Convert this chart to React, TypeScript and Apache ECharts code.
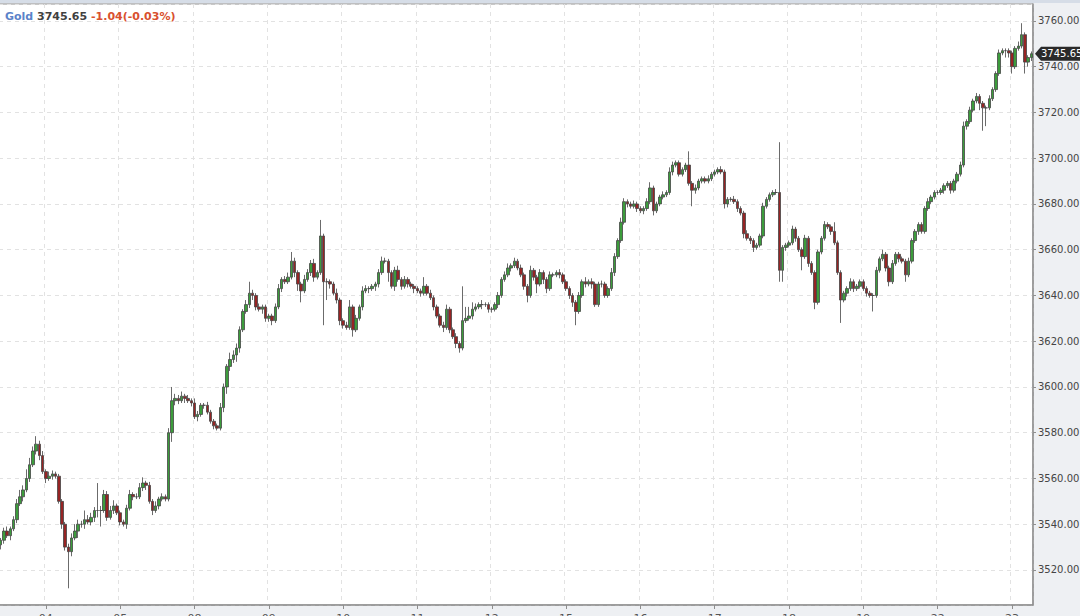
import React, { useEffect, useRef } from 'react';
import * as echarts from 'echarts';

// Trading days shown on the x axis and number of hourly bars visible for each
const dayLabels = ['03', '04', '05', '08', '09', '10', '11', '12', '15', '16', '17', '18', '19', '22', '23'];
const barsPerDay = [14, 23, 23, 23, 23, 23, 23, 23, 23, 23, 23, 23, 23, 23, 7];

const firstOpen = 3531;
const lastPrice = 3745.65;
const legendName = 'Gold';
const legendPrice = '3745.65';
const legendChange = '-1.04(-0.03%)';

// hourly closes, one row per trading day
const closes = [
  3533, 3537, 3535, 3538, 3542, 3549, 3552, 3555, 3560, 3566, 3572, 3575, 3570, 3563,
  3560, 3561, 3562, 3561, 3550, 3540, 3530, 3528, 3534, 3537, 3540, 3540, 3542, 3541, 3543, 3546, 3546, 3546, 3553, 3543, 3546, 3548, 3545,
  3541, 3540, 3547, 3553, 3552, 3552, 3556, 3558, 3557, 3550, 3546, 3548, 3551, 3552, 3551, 3580, 3594, 3595, 3594, 3596, 3595, 3594, 3593,
  3587, 3588, 3592, 3592, 3589, 3585, 3583, 3582, 3591, 3600, 3609, 3612, 3614, 3617, 3625, 3633, 3636, 3641, 3640, 3635, 3634, 3635, 3630,
  3631, 3629, 3635, 3643, 3647, 3646, 3648, 3655, 3650, 3645, 3642, 3647, 3650, 3654, 3648, 3650, 3666, 3646, 3646, 3645, 3641, 3638, 3629,
  3627, 3626, 3635, 3625, 3630, 3635, 3642, 3643, 3643, 3644, 3645, 3650, 3655, 3655, 3650, 3644, 3651, 3647, 3644, 3647, 3645, 3644, 3643,
  3642, 3641, 3644, 3641, 3639, 3635, 3631, 3627, 3626, 3634, 3625, 3622, 3619, 3617, 3629, 3630, 3631, 3634, 3635, 3636, 3636, 3636, 3634,
  3634, 3636, 3640, 3647, 3649, 3652, 3653, 3655, 3652, 3649, 3644, 3640, 3651, 3648, 3645, 3650, 3647, 3643, 3649, 3649, 3650, 3649, 3646,
  3643, 3640, 3637, 3633, 3640, 3646, 3645, 3646, 3645, 3636, 3645, 3645, 3640, 3643, 3650, 3657, 3664, 3672, 3681, 3680, 3679, 3680, 3678,
  3677, 3678, 3681, 3687, 3677, 3680, 3683, 3684, 3685, 3694, 3697, 3698, 3693, 3695, 3697, 3689, 3686, 3687, 3690, 3691, 3690, 3691, 3693,
  3694, 3695, 3694, 3680, 3682, 3682, 3681, 3678, 3676, 3667, 3665, 3664, 3661, 3662, 3666, 3679, 3682, 3684, 3685, 3685, 3651, 3661, 3662,
  3663, 3669, 3665, 3660, 3657, 3665, 3654, 3650, 3637, 3659, 3665, 3671, 3670, 3668, 3663, 3650, 3638, 3641, 3643, 3646, 3643, 3644, 3646,
  3643, 3641, 3640, 3640, 3651, 3656, 3658, 3652, 3646, 3654, 3658, 3656, 3655, 3649, 3655, 3664, 3668, 3671, 3668, 3678, 3681, 3683, 3685,
  3685, 3686, 3688, 3689, 3686, 3690, 3693, 3697, 3714, 3716, 3721, 3725, 3727, 3724, 3722, 3722, 3726, 3730, 3737, 3746, 3747, 3747, 3746,
  3740, 3748, 3749, 3754, 3742, 3744, 3745.65,
];

// upper wick length above the body
const wickUp = [
  1, 1.5, 2, 1, 1.5, 2, 3, 2, 4, 3, 2, 3.5, 1.5, 2,
  1, 2, 1.5, 1, 1, 1, 1, 1.5, 2, 3, 2, 1.5, 4, 2, 2, 1.5, 12, 2, 2, 1.5, 2, 2.5, 1,
  1, 1, 1.5, 2, 1, 1.5, 2, 2.5, 1, 1.5, 1, 2, 1, 1.5, 1, 2, 6, 2, 1.5, 2, 1, 1.5, 1,
  2, 1.5, 1, 1, 1.5, 1, 1, 1, 2, 1.5, 1, 3, 2, 2, 1.5, 1, 2, 5, 1.5, 1, 1.5, 1, 1,
  1, 1, 1.5, 2, 1, 1.5, 2, 4, 1.5, 1, 1, 2, 1.5, 1.5, 2, 1, 7, 1, 1.5, 1, 1, 2, 1,
  1, 1.5, 3, 1, 1.5, 1, 2, 1.5, 1, 1, 1, 1.5, 2, 1.5, 1, 1, 1.5, 2, 1, 1.5, 1, 1, 1,
  1, 1, 4, 1, 1.5, 1, 1, 1, 1.5, 2, 1, 1, 1.5, 1, 15, 5, 4, 3, 1.5, 1, 2, 1, 1,
  1, 1, 1.5, 1, 1.5, 2, 1, 1.5, 1, 1.5, 1, 1, 2, 1, 1, 1.5, 1, 1, 1.5, 1, 1, 1.5, 1,
  1, 1, 1, 1, 1.5, 1, 2, 1, 1.5, 1, 1, 1.5, 1, 1, 2, 1.5, 1, 2, 1.5, 1, 1, 1.5, 1,
  1, 1, 1.5, 2.5, 1, 1, 1, 1.5, 1, 2, 1.5, 1, 1, 1, 1, 6, 1, 1.5, 1, 1, 1, 1.5, 1,
  1, 1, 1.5, 1, 1, 1, 1.5, 1, 1, 1, 1.5, 1, 1, 1, 1, 1.5, 1, 1, 1, 1.5, 22, 1, 1,
  1, 1.5, 1, 1, 1, 1.5, 1, 1, 1, 1, 1, 1.5, 1, 1, 4, 1, 1, 1, 1, 1.5, 1, 1, 1,
  1, 1, 1, 1, 1.5, 1, 2, 1, 1, 1.5, 1, 1, 1, 1, 1.5, 1, 1, 1, 1, 1, 1.5, 1, 1,
  1, 1, 1, 1, 1, 1, 1, 1.5, 2, 1, 1.5, 1, 1.5, 1, 1, 1, 1.5, 1, 1, 1.5, 1, 1, 1,
  1, 1, 2, 5, 1, 1, 1,
];

// lower wick length below the body
const wickDn = [
  2, 1.5, 1, 2, 1, 1.5, 1, 2, 1, 1.5, 1, 1.5, 2, 1,
  2, 1, 1.5, 1, 1, 2, 1.5, 16, 2, 1, 3, 1.5, 2, 1, 1.5, 2, 3, 7, 1, 1.5, 1, 1.5, 1,
  1.5, 1, 2, 1, 1.5, 1, 1, 1.5, 2, 1, 2, 1, 1.5, 1, 1, 1, 4, 2, 1.5, 1, 2, 1, 1.5,
  1, 2, 1, 1.5, 1, 1, 1.5, 1, 1, 2, 3, 2, 1.5, 3, 2, 1, 1, 1.5, 2, 1.5, 1, 2, 1.5,
  1.5, 2, 1, 1, 1.5, 1, 1, 1, 2, 3, 5, 1, 1, 1.5, 2, 1, 1, 19, 8, 2, 1, 1.5, 2,
  1.5, 1, 1, 3, 1, 1, 1.5, 1, 2, 1, 2, 1.5, 1, 1, 4, 1, 2, 1, 1.5, 1, 1.5, 1, 2,
  1, 1.5, 1, 1, 1, 1.5, 1, 1, 2, 1, 1.5, 1, 2, 2, 1, 1, 1, 1.5, 1, 1, 2, 1, 1.5,
  1.5, 1, 1.5, 1, 1, 1, 1.5, 1, 1, 1, 1.5, 3, 1, 1.5, 4, 1, 2, 2, 1, 1, 1, 1.5, 1,
  1, 1.5, 2, 6, 1, 1, 1.5, 1, 2, 1, 1, 1.5, 1, 1, 1, 1.5, 1, 1, 1, 1.5, 1, 1, 1.5,
  1, 1.5, 1, 1, 2, 1, 1, 1, 1, 1, 1.5, 1, 1, 1, 1, 1, 7, 1.5, 1, 1, 1, 1, 1,
  1, 1, 1, 2, 1.5, 1, 1, 1.5, 1, 2, 1, 1.5, 2, 1, 1, 1, 1, 1, 1, 1, 5, 5, 1.5,
  1, 1, 1.5, 1, 6, 1, 1.5, 1, 3, 1, 1, 1, 1, 1.5, 1, 1, 10, 1, 1.5, 1, 1.5, 1, 1,
  1, 1.5, 1, 7, 1, 1, 1, 1.5, 2, 1, 1, 1.5, 1, 3, 1, 1, 1, 1.5, 1, 1, 1, 1, 1,
  1, 1, 1.5, 1, 1.5, 1, 1, 1, 1, 1.5, 1, 1, 1, 3, 10, 8, 1, 1, 1, 1, 1, 3, 2,
  3, 1, 1, 1, 5, 2, 1.5,
];

const Y_MIN = 3504.7;
const Y_MAX = 3767.4;

export default function App() {
  const ref = useRef<HTMLDivElement>(null);

  useEffect(() => {
    if (!ref.current) return;
    const chart = echarts.init(ref.current, null, { renderer: 'svg' });

    const categories: string[] = [];
    const dayStart = new Set<number>();
    dayLabels.forEach((d, k) => {
      const n = barsPerDay[k];
      const startHour = k === 0 ? 24 - n : 1;
      if (k > 0) dayStart.add(categories.length);
      for (let h = 0; h < n; h++) {
        categories.push(`${d} ${String(startHour + h).padStart(2, '0')}:00`);
      }
    });

    const data = closes.map((c, i) => {
      const o = i === 0 ? firstOpen : closes[i - 1];
      const lo = Math.min(o, c) - wickDn[i];
      const hi = Math.max(o, c) + wickUp[i];
      return [o, c, lo, hi];
    });

    const isDay = (i: number) => dayStart.has(i);
    const gridLine = { color: '#e2e2e2', type: [4, 4] as any, width: 1 };

    const baseGraphic: any[] = [
      { id: 'topband', type: 'rect', shape: { x: 0, y: 0, width: 1080, height: 3 }, style: { fill: '#d6dde7' }, z: 10 },
      {
        id: 'legend',
        type: 'text',
        x: 5,
        y: 11,
        z: 10,
        style: {
          text: `{a|${legendName}} {b|${legendPrice}} {c|${legendChange}}`,
          font: 'bold 11px "DejaVu Sans"',
          rich: {
            a: { fill: '#5b83c9', font: 'bold 11px "DejaVu Sans"' },
            b: { fill: '#404040', font: 'bold 11px "DejaVu Sans"' },
            c: { fill: '#d9512f', font: 'bold 11px "DejaVu Sans"' },
          },
        },
      },
    ];

    chart.setOption({
      animation: false,
      backgroundColor: '#eef0f3',
      textStyle: { fontFamily: 'DejaVu Sans' },
      grid: {
        left: -1,
        right: 47,
        top: 4,
        bottom: 11,
        outerBoundsMode: 'none',
        containLabel: false,
        show: true,
        backgroundColor: '#ffffff',
        borderColor: '#8f8f8f',
        borderWidth: 1,
      },
      xAxis: {
        type: 'category',
        data: categories,
        boundaryGap: true,
        axisLine: { show: true, lineStyle: { color: '#8f8f8f', width: 1.5 } },
        axisTick: { show: true, alignWithLabel: true, interval: isDay, length: 4, lineStyle: { color: '#8f8f8f' } },
        axisLabel: {
          interval: isDay,
          formatter: (v: string) => v.slice(0, 2),
          color: '#555',
          fontSize: 11,
          margin: 8,
          fontFamily: 'DejaVu Sans',
        },
        splitLine: { show: true, interval: isDay, lineStyle: gridLine },
      },
      yAxis: {
        type: 'value',
        position: 'right',
        min: Y_MIN,
        max: Y_MAX,
        splitNumber: 13,
        axisLine: { show: true, lineStyle: { color: '#8f8f8f', width: 1.5 } },
        axisTick: { show: true, length: 3, lineStyle: { color: '#8f8f8f' } },
        axisLabel: {
          showMinLabel: false,
          showMaxLabel: false,
          formatter: (v: number) => v.toFixed(2),
          color: '#444',
          fontSize: 10,
          margin: 5,
          fontFamily: 'DejaVu Sans',
        },
        splitLine: { show: true, lineStyle: gridLine },
      },
      series: [
        {
          type: 'candlestick',
          data,
          barWidth: 3,
          itemStyle: {
            color: '#3c9c3c',
            color0: '#962424',
            borderColor: '#454545',
            borderColor0: '#454545',
            borderWidth: 0.8,
          },
        },
      ],
      graphic: baseGraphic,
    });

    const py = chart.convertToPixel({ yAxisIndex: 0 }, lastPrice) as number;
    const ax = chart.convertToPixel({ xAxisIndex: 0 }, categories.length - 1) as number;
    const edge = Math.round(ax + 4);
    chart.setOption(
      {
        graphic: [
          ...baseGraphic,
          {
            id: 'pricebox',
            type: 'polygon',
            z: 10,
            shape: {
              points: [
                [edge, py],
                [edge + 6, py - 7],
                [1082, py - 7],
                [1082, py + 7],
                [edge + 6, py + 7],
              ],
            },
            style: { fill: '#2a2a2a' },
          },
          {
            id: 'pricetext',
            type: 'text',
            z: 11,
            x: edge + 6,
            y: py,
            style: {
              text: String(lastPrice),
              fill: '#ffffff',
              font: '10px "DejaVu Sans"',
              verticalAlign: 'middle',
            },
          },
        ],
      },
      { replaceMerge: ['graphic'] } as any
    );

    return () => chart.dispose();
  }, []);

  return (
    <div
      ref={ref}
      style={{ position: 'fixed', left: 0, top: 0, width: 1080, height: 616 }}
    />
  );
}
